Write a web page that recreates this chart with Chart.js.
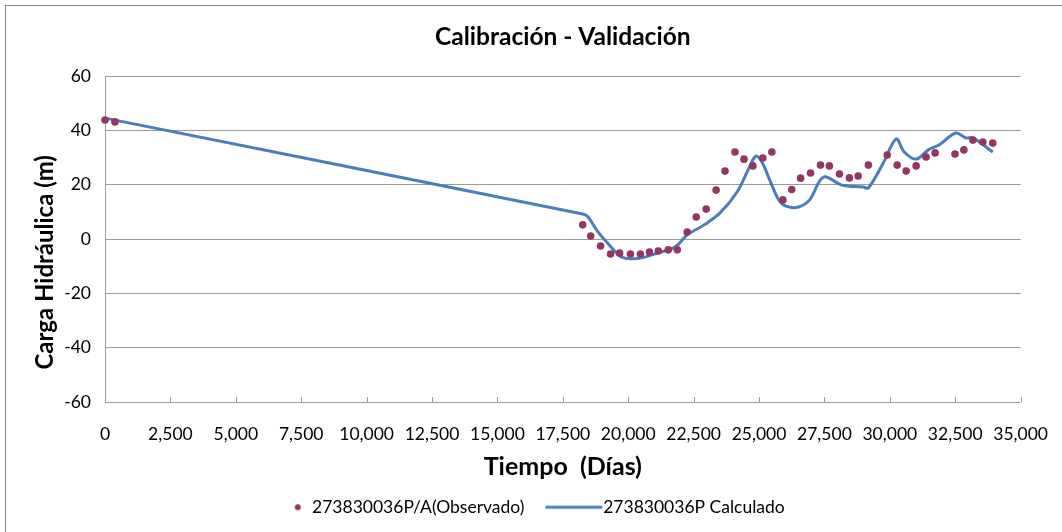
<!DOCTYPE html>
<html>
<head>
<meta charset="utf-8">
<script src="https://cdn.jsdelivr.net/npm/chart.js@4/dist/chart.umd.min.js"></script>
<style>
    html, body { margin: 0; padding: 0; background: #fff; }
    #wrap { width: 1062px; height: 532px; }
</style>
</head>
<body>
<div id="wrap"><canvas id="headChart"></canvas></div>
<script>
// observed heads (well 273830036P/A)
const obsDays = [0, 380, 18260, 18565, 18945, 19325, 19670, 20085, 20465, 20810, 21150, 21530, 21875,
    22255, 22600, 22980, 23360, 23700, 24080, 24425, 24765, 25145, 25490, 25910, 26250, 26590,
    26970, 27350, 27690, 28075, 28455, 28790, 29180, 29900, 30280, 30625, 31005, 31385, 31730,
    32490, 32830, 33175, 33555, 33935];
const obsHead = [43.8, 43.1, 5.2, 1.1, -2.6, -5.5, -5.2, -5.5, -5.5, -4.8, -4.4, -4.0, -4.0,
    2.6, 8.1, 11.0, 18.0, 25.0, 32.0, 29.4, 26.9, 29.8, 32.0, 14.4, 18.2, 22.4,
    24.3, 27.2, 26.9, 23.9, 22.5, 23.2, 27.2, 30.9, 27.2, 25.0, 26.9, 30.2, 31.7,
    31.3, 32.8, 36.4, 35.7, 35.3];

// model output
const calcDays = [0, 18260, 18450, 18830, 19210, 19780, 20465, 21110, 21800, 22255, 22900, 23510,
    24160, 24610, 24880, 25110, 25410, 25755, 26060, 26515, 26935, 27465, 28150, 28990, 29180,
    29750, 30245, 30550, 31005, 31500, 31880, 32525, 32905, 33175, 33935];
const calcHead = [44.5, 9.2, 8.3, 2.8, -1.5, -6.8, -7.0, -5.2, -2.9, 1.5, 5.2, 9.6,
    17.3, 26.0, 30.5, 28.3, 21.7, 14.4, 12.0, 11.8, 14.4, 22.8, 19.9, 19.1, 18.8,
    28.0, 36.8, 32.0, 29.4, 33.0, 34.6, 39.0, 37.2, 37.2, 32.0];

const seriesNames = ['273830036P/A(Observado)', '273830036P Calculado'];
const xRange = [0, 35000, 2500];
const yRange = [-60, 60, 20];

const fontFamily = 'Lato, "Open Sans", sans-serif';
const gridColor = '#9a9a9a';
const obsColor = '#953563';
const calcColor = '#4a7ebb';

// legend symbols as small canvases so the dot and the line get their own spacing
function legendIcon(kind) {
    const c = document.createElement('canvas');
    c.width = 120;
    c.height = 10;
    const g = c.getContext('2d');
    if (kind === 'dot') {
        g.fillStyle = obsColor;
        g.beginPath();
        g.arc(84.5, 5, 3, 0, Math.PI * 2);
        g.fill();
    } else {
        g.strokeStyle = calcColor;
        g.lineWidth = 3;
        g.beginPath();
        g.moveTo(41, 5);
        g.lineTo(98, 5);
        g.stroke();
    }
    return c;
}
const icons = [legendIcon('dot'), legendIcon('line')];

const framePlugin = {
    id: 'frame',
    beforeDraw(chart) {
        const ctx = chart.ctx;
        ctx.save();
        ctx.strokeStyle = '#8c8c8c';
        ctx.lineWidth = 1;
        ctx.strokeRect(5.5, 5.5, chart.width, chart.height);
        ctx.restore();
    }
};

// short inward tick marks on the time axis
const xTickMarks = {
    id: 'xTickMarks',
    afterDatasetsDraw(chart) {
        const scale = chart.scales.x;
        const ctx = chart.ctx;
        const bottom = chart.chartArea.bottom;
        ctx.save();
        ctx.strokeStyle = gridColor;
        ctx.lineWidth = 1;
        scale.ticks.forEach(t => {
            const px = Math.round(scale.getPixelForValue(t.value)) + 0.5;
            ctx.beginPath();
            ctx.moveTo(px, bottom);
            ctx.lineTo(px, bottom - 5);
            ctx.stroke();
        });
        ctx.restore();
    }
};

const ctx = document.getElementById('headChart');
new Chart(ctx, {
    type: 'scatter',
    data: {
        datasets: [
            {
                label: seriesNames[0],
                data: obsDays.map((d, i) => ({ x: d, y: obsHead[i] })),
                backgroundColor: obsColor,
                borderColor: obsColor,
                pointRadius: 3.8,
                pointBorderWidth: 0,
                showLine: false,
                clip: false,
                order: 1
            },
            {
                label: seriesNames[1],
                data: calcDays.map((d, i) => ({ x: d, y: calcHead[i] })),
                borderColor: calcColor,
                backgroundColor: calcColor,
                borderWidth: 3,
                pointRadius: 0,
                showLine: true,
                tension: 0.35,
                clip: false,
                order: 2
            }
        ]
    },
    options: {
        responsive: true,
        maintainAspectRatio: false,
        animation: false,
        layout: { padding: { left: 0, right: 34, top: 0, bottom: 6 } },
        scales: {
            x: {
                type: 'linear',
                min: xRange[0],
                max: xRange[1],
                afterFit: s => { s.height = 86.5; },
                ticks: {
                    stepSize: xRange[2],
                    padding: 14,
                    color: '#000',
                    font: { family: fontFamily, size: 17.5 },
                    maxRotation: 0,
                    callback: v => v.toLocaleString('en-US')
                },
                grid: { display: false },
                border: { display: false },
                title: {
                    display: true,
                    text: 'Tiempo  (Días)',
                    color: '#000',
                    font: { family: fontFamily, size: 25, weight: 'bold' },
                    padding: { top: 0, bottom: 6.5 }
                }
            },
            y: {
                min: yRange[0],
                max: yRange[1],
                afterFit: s => { s.width = 105; },
                ticks: {
                    stepSize: yRange[2],
                    padding: 14,
                    color: '#000',
                    font: { family: fontFamily, size: 17.5 }
                },
                grid: { color: gridColor, drawTicks: false },
                border: { display: true, color: gridColor },
                title: {
                    display: true,
                    // trailing no-break spaces push the centred label down a little
                    text: 'Carga Hidráulica (m)\u00a0\u00a0\u00a0\u00a0\u00a0\u00a0\u00a0\u00a0',
                    color: '#000',
                    font: { family: fontFamily, size: 24, weight: 'bold' },
                    padding: { top: 30.6, bottom: 0 }
                }
            }
        },
        plugins: {
            title: {
                display: true,
                fullSize: false,
                text: 'Calibración - Validación',
                color: '#000',
                font: { family: fontFamily, size: 24.5, weight: 'bold' },
                padding: { top: 22.3, bottom: 24.3 }
            },
            legend: {
                position: 'bottom',
                labels: {
                    usePointStyle: true,
                    pointStyleWidth: 60,
                    padding: 10,
                    color: '#000',
                    font: { family: fontFamily, size: 17.5 },
                    generateLabels(chart) {
                        const items = Chart.defaults.plugins.legend.labels.generateLabels(chart);
                        items.forEach((it, i) => { it.pointStyle = icons[i]; });
                        return items;
                    }
                }
            },
            tooltip: { enabled: false }
        }
    },
    plugins: [framePlugin, xTickMarks]
});
</script>
</body>
</html>
